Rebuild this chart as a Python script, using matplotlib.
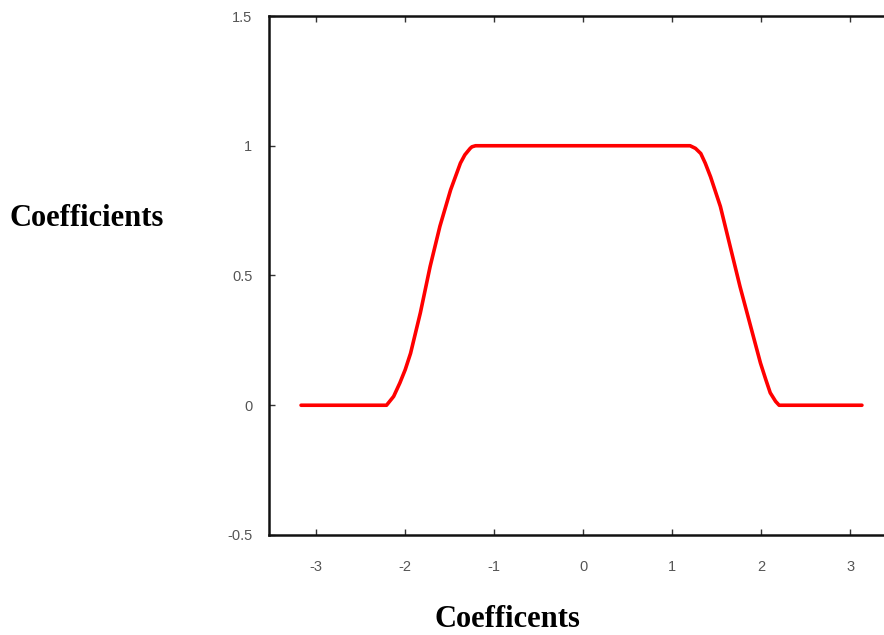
import matplotlib.pyplot as plt

# values
x_vals = [-3.17, -2.21, -2.13, -2.06, -2.00, -1.94, -1.83, -1.72, -1.61, -1.49, -1.38,
          -1.33, -1.27, -1.25, -1.21,
          1.20, 1.26, 1.32, 1.37, 1.43, 1.54, 1.65, 1.76, 1.88, 1.99, 2.05, 2.10,
          2.16, 2.20, 3.13]
y_vals = [0.0, 0.0, 0.034, 0.086, 0.137, 0.20, 0.356, 0.535, 0.69, 0.83, 0.933,
          0.965, 0.99, 0.996, 1.0,
          1.0, 0.99, 0.97, 0.933, 0.88, 0.766, 0.612, 0.458, 0.304, 0.163, 0.099, 0.048,
          0.015, 0.0, 0.0]

xticks = [-3, -2, -1, 0, 1, 2, 3]
yticks = [-0.5, 0, 0.5, 1, 1.5]
ytick_labels = ['-0.5', '0', '0.5', '1', '1.5']

fig = plt.figure(figsize=(8.84, 6.35), dpi=100)
ax = fig.add_axes([0.3043, 0.1575, 0.708, 0.8173])

ax.plot(x_vals, y_vals, color='#ff0000', lw=2.6, solid_joinstyle='round',
        solid_capstyle='round')

ax.set_xlim(-3.53, 3.5)
ax.set_ylim(-0.5, 1.5)
ax.set_xticks(xticks)
ax.set_xticklabels([str(t) for t in xticks])
ax.set_yticks(yticks)
ax.set_yticklabels(ytick_labels)

ax.tick_params(direction='in', length=4, width=1, color='#333333',
               labelsize=10.5, labelcolor='#555555', top=True, right=True)
ax.tick_params(axis='x', pad=18)
ax.tick_params(axis='y', pad=12)
for lab in ax.get_xticklabels() + ax.get_yticklabels():
    lab.set_family('Liberation Sans')

for s in ax.spines.values():
    s.set_linewidth(1.8)
    s.set_color('#111111')

fig.text(0.011, 0.656, 'Coefficients', family='Liberation Serif', weight='bold',
         fontsize=22, ha='left', va='center')
fig.text(0.574, 0.024, 'Coefficents', family='Liberation Serif', weight='bold',
         fontsize=22, ha='center', va='center')

fig.savefig('out.png', dpi=100)
